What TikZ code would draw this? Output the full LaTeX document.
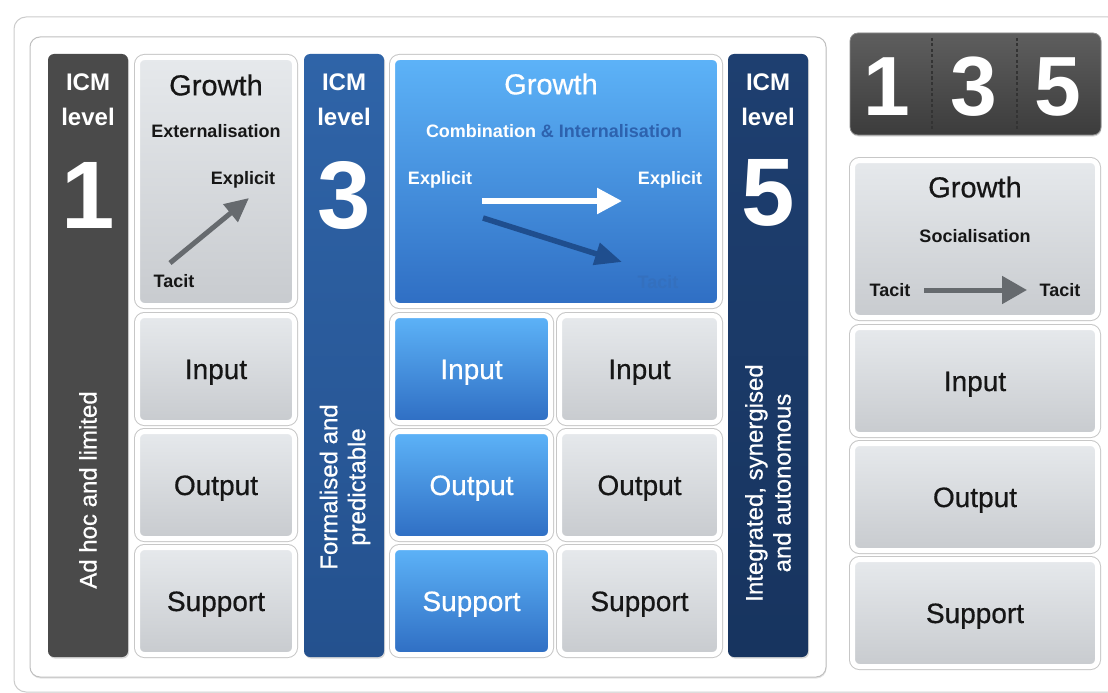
\documentclass[tikz,border=0pt]{standalone}
\usepackage{fontspec}
\setmainfont{Liberation Sans}
\newfontfamily\medfont[FakeBold=0.6]{Liberation Sans}
\usetikzlibrary{arrows.meta,shadows}
\definecolor{gtop}{HTML}{E6E9EC}
\definecolor{gbot}{HTML}{C8CBCF}
\definecolor{btop}{HTML}{5DB3F8}
\definecolor{bbot}{HTML}{2F6EC3}
\definecolor{bar1}{HTML}{4A4A4A}
\definecolor{bar3t}{HTML}{2F64A8}
\definecolor{bar3b}{HTML}{24518E}
\definecolor{bar5t}{HTML}{1E3F70}
\definecolor{bar5b}{HTML}{17345F}
\definecolor{arrgray}{HTML}{666A6E}
\definecolor{darkblue}{HTML}{1F4E8E}
\definecolor{midblue}{HTML}{2D62AE}
\definecolor{tacitblue}{HTML}{3470BE}
\definecolor{disptop}{HTML}{5E5E5E}
\definecolor{dispbot}{HTML}{3C3C3C}
\definecolor{txtdark}{HTML}{161616}
\begin{document}
\begin{tikzpicture}[x=1pt,y=-1pt,
  boxbase/.style={rounded corners=7pt, line width=5pt, draw=white,
    preaction={draw=black!22, line width=7pt}},
  graybox/.style={boxbase, top color=gtop, bottom color=gbot, text=txtdark, t28},
  bluebox/.style={boxbase, top color=btop, bottom color=bbot, text=white, t28},
  barbox/.style={rounded corners=6pt, inner sep=0pt,
    drop shadow={opacity=0.3, shadow xshift=1pt, shadow yshift=-1.5pt}},
  t28/.style={font=\fontsize{28}{28}\medfont, text height=20pt, text depth=0pt, inner sep=0pt},
  t29/.style={font=\fontsize{29}{29}\medfont, text height=20.8pt, text depth=0pt, inner sep=0pt},
  t24b/.style={font=\fontsize{24}{24}\selectfont\bfseries, text height=17.2pt, text depth=0pt, inner sep=0pt},
  t18b/.style={font=\fontsize{18}{18}\selectfont\bfseries, text height=12.9pt, text depth=0pt, inner sep=0pt},
  big/.style={font=\fontsize{96}{96}\selectfont\bfseries, text height=68.7pt, text depth=0pt, inner sep=0pt, text=white},
  disp/.style={font=\fontsize{84}{84}\selectfont\bfseries, text height=60pt, text depth=0pt, inner sep=0pt, text=white},
  side/.style={font=\fontsize{24}{28}\medfont, rotate=90, align=center, text=white, inner sep=0pt},
  garrow/.style={draw=arrgray, line width=5pt, -{Triangle[length=24pt,width=22pt]}},
]
\useasboundingbox (0,0) rectangle (1108,693);
\fill[white] (0,0) rectangle (1108,693);

% frames
\node[draw=black!20, line width=1pt, fill=white, rounded corners=12pt, minimum width=1106pt, minimum height=675pt, inner sep=0pt] (frame) at (567,354.5) {};
\node[draw=black!25, line width=1pt, fill=white, rounded corners=10pt, minimum width=796pt, minimum height=640pt, inner sep=0pt,
  drop shadow={opacity=0.2, shadow xshift=0.5pt, shadow yshift=-1.5pt}] (panel) at (428,357) {};

% level bars
\node[barbox, fill=bar1, minimum width=80pt, minimum height=603pt] (bar1) at (88,355.5) {};
\node[barbox, top color=bar3t, bottom color=bar3b, minimum width=80pt, minimum height=603pt] (bar3) at (344,355.5) {};
\node[barbox, top color=bar5t, bottom color=bar5b, minimum width=80pt, minimum height=603pt] (bar5) at (768,355.5) {};

\node[t24b, text=white] (icm1) at (88,81.5) {ICM};
\node[t24b, text=white] (lvl1) at (88,117) {level};
\node[big] (n1) at (88,194) {1};
\node[side] (desc1) at (88,490) {Ad hoc and limited};

\node[t24b, text=white] (icm3) at (344,81.5) {ICM};
\node[t24b, text=white] (lvl3) at (344,117) {level};
\node[big] (n3) at (344,194) {3};
\node[side] (desc3) at (345,487) {Formalised and\\predictable};

\node[t24b, text=white] (icm5) at (768,81.5) {ICM};
\node[t24b, text=white] (lvl5) at (768,117) {level};
\node[big] (n5) at (768,191) {5};
\node[side] (desc5) at (768,483) {Integrated, synergised\\and autonomous};

% level 1 column
\node[graybox, minimum width=157pt, minimum height=248pt] (grow1) at (216,181.5) {};
\node[t29, text=txtdark] (grow1t) at (216,85) {Growth};
\node[t18b, text=txtdark] (ext) at (216,131.5) {Externalisation};
\node[t18b, text=txtdark] (exp1) at (243,178.5) {Explicit};
\node[t18b, text=txtdark] (tac1) at (174,281) {Tacit};
\coordinate (a1s) at (170,263);
\coordinate (a1e) at (249,198);
\draw[garrow] (a1s) -- (a1e);

\node[graybox, minimum width=157pt, minimum height=107pt] (in1) at (216,369) {Input};
\node[graybox, minimum width=157pt, minimum height=107pt] (out1) at (216,485) {Output};
\node[graybox, minimum width=157pt, minimum height=107pt] (sup1) at (216,601) {Support};

% level 3 column
\node[bluebox, minimum width=327pt, minimum height=248pt] (grow3) at (556,181.5) {};
\node[t29, text=white] (grow3t) at (551,84) {Growth};
\node[t18b, text=white] (comb) at (554,131.5) {Combination \textcolor{midblue}{\& Internalisation}};
\node[t18b, text=white] (exp3a) at (440,178.5) {Explicit};
\node[t18b, text=white] (exp3b) at (670,178.5) {Explicit};
\node[t18b, text=tacitblue] (tac3) at (658,282) {Tacit};
\coordinate (a3s) at (482,201);
\coordinate (a3e) at (622,201);
\coordinate (a4s) at (483,218);
\coordinate (a4e) at (622,262);
\draw[draw=white, line width=5.5pt, -{Triangle[length=25pt,width=25pt]}] (a3s) -- (a3e);
\draw[draw=darkblue, line width=5.5pt, -{Triangle[length=27pt,width=22pt]}] (a4s) -- (a4e);

\node[bluebox, minimum width=158pt, minimum height=107pt] (in3a) at (471.5,369) {Input};
\node[bluebox, minimum width=158pt, minimum height=107pt] (out3a) at (471.5,485) {Output};
\node[bluebox, minimum width=158pt, minimum height=107pt] (sup3a) at (471.5,601) {Support};
\node[graybox, minimum width=160pt, minimum height=107pt] (in3b) at (639.5,369) {Input};
\node[graybox, minimum width=160pt, minimum height=107pt] (out3b) at (639.5,485) {Output};
\node[graybox, minimum width=160pt, minimum height=107pt] (sup3b) at (639.5,601) {Support};

% right side: display
\node[draw=black!45, line width=0.8pt, top color=disptop, bottom color=dispbot, rounded corners=8pt,
  minimum width=251pt, minimum height=102pt, inner sep=0pt,
  drop shadow={opacity=0.3, shadow xshift=0.5pt, shadow yshift=-1.5pt}] (display) at (975.5,84) {};
\node[disp] (d1) at (887,85) {1};
\node[disp] (d3) at (974,85) {3};
\node[disp] (d5) at (1058,85) {5};
\coordinate (s1t) at (932,38);
\coordinate (s1b) at (932,129);
\coordinate (s2t) at (1017,38);
\coordinate (s2b) at (1017,129);
\draw[black!80, line width=1.3pt, dash pattern=on 3pt off 2.5pt] (s1t) -- (s1b);
\draw[black!80, line width=1.3pt, dash pattern=on 3pt off 2.5pt] (s2t) -- (s2b);

% right side: level 5 column
\node[graybox, minimum width=245pt, minimum height=157pt] (grow5) at (975,239) {};
\node[t29, text=txtdark] (grow5t) at (975,187) {Growth};
\node[t18b, text=txtdark] (soc) at (975,236.5) {Socialisation};
\node[t18b, text=txtdark] (tac5a) at (890,290) {Tacit};
\node[t18b, text=txtdark] (tac5b) at (1060,290) {Tacit};
\coordinate (a5s) at (924,290);
\coordinate (a5e) at (1027,290);
\draw[draw=arrgray, line width=5pt, -{Triangle[length=25pt,width=27pt]}] (a5s) -- (a5e);

\node[graybox, minimum width=245pt, minimum height=107pt] (in5) at (975,381) {Input};
\node[graybox, minimum width=245pt, minimum height=107pt] (out5) at (975,497) {Output};
\node[graybox, minimum width=245pt, minimum height=107pt] (sup5) at (975,613) {Support};
\end{tikzpicture}
\end{document}
